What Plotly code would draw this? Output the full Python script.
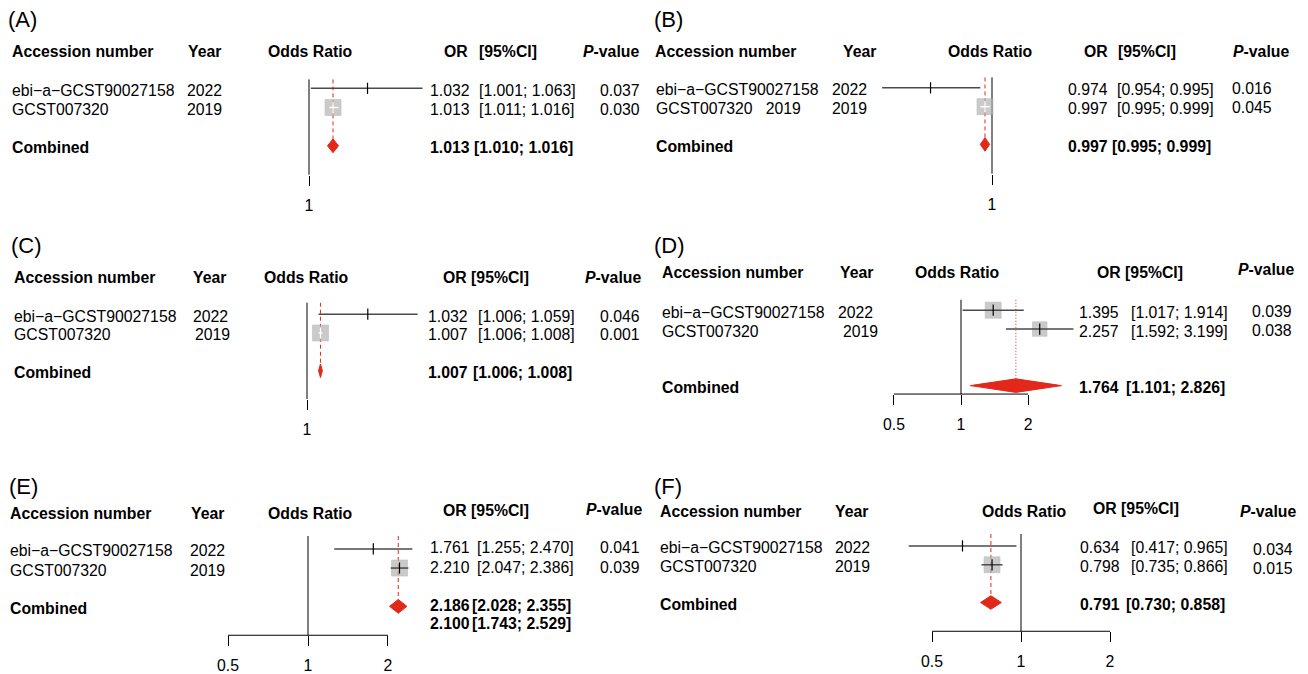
import math
import plotly.graph_objects as go

W, H = 1308, 674
FONT = "Liberation Sans, Arial, Helvetica, sans-serif"
FS = 15.8
TEXT_DY = 2      # glyph centre sits a little above the annotation box centre
TEXT_DX = -2     # annotation box padding on the anchored side

# ---------------- data ----------------
study_ids = ["ebi−a−GCST90027158", "GCST007320"]
study_ids_b = ["ebi−a−GCST90027158", "GCST007320\u00a0\u00a0\u00a02019"]
study_years = ["2022", "2019"]

# (A)
or_a = [1.032, 1.013]
lo_a = [1.001, 1.011]
hi_a = [1.063, 1.016]
p_a = ["0.037", "0.030"]
pooled_a = [1.013, 1.010, 1.016]

# (B)
or_b = [0.974, 0.997]
lo_b = [0.954, 0.995]
hi_b = [0.995, 0.999]
p_b = ["0.016", "0.045"]
pooled_b = [0.997, 0.995, 0.999]

# (C)
or_c = [1.032, 1.007]
lo_c = [1.006, 1.006]
hi_c = [1.059, 1.008]
p_c = ["0.046", "0.001"]
pooled_c = [1.007, 1.006, 1.008]

# (D)
or_d = [1.395, 2.257]
lo_d = [1.017, 1.592]
hi_d = [1.914, 3.199]
p_d = ["0.039", "0.038"]
pooled_d = [1.764, 1.101, 2.826]

# (E)
or_e = [1.761, 2.210]
lo_e = [1.255, 2.047]
hi_e = [2.470, 2.386]
p_e = ["0.041", "0.039"]
pooled_e = [2.186, 2.028, 2.355]
pooled_e_alt = [2.100, 1.743, 2.529]

# (F)
or_f = [0.634, 0.798]
lo_f = [0.417, 0.735]
hi_f = [0.965, 0.866]
p_f = ["0.034", "0.015"]
pooled_f = [0.791, 0.730, 0.858]

axis_ticks_narrow = [1]
axis_ticks_wide = [0.5, 1, 2]

# ---------------- styling ----------------
RED = "#e2281b"
SQUARE_FILL = "#b4b4b4"
SQUARE_EDGE = "#a2a2a2"
CI_COLOR = "#4a4a4a"
MAX_SIDE = 16

# ---------------- panel layout (pixels) ----------------
panels = [
    dict(tag="(A)", tag_xy=(8, 18), names=study_ids,
         est=or_a, lo=lo_a, hi=hi_a, p=p_a, pooled=pooled_a, pooled_alt=None,
         span=(0, 654), one_px=309, k=1858, row1=89, pitch=19.3, comb_row=4,
         ref_top=80, axis=176, ticks=axis_ticks_narrow, refdash="4px,3px",
         head_y=50, split_head=True, head_dy=(0, 0),
         head_x=dict(acc=12, year=188, odds=268, or_=468, ci=479, pv=583),
         col_x=dict(name=12, year=[187, 187], est=430, ci=479, p=600),
         val_dy=0, p_dy=0),
    dict(tag="(B)", tag_xy=(654, 18), names=study_ids_b,
         est=or_b, lo=lo_b, hi=hi_b, p=p_b, pooled=pooled_b, pooled_alt=None,
         span=(654, 1308), one_px=992, k=2333, row1=88.5, pitch=19, comb_row=4,
         ref_top=78, axis=175, ticks=axis_ticks_narrow, refdash="4px,3px",
         head_y=50, split_head=True, head_dy=(0, 0),
         head_x=dict(acc=655, year=843, odds=948, or_=1108, ci=1118, pv=1233),
         col_x=dict(name=656, year=[832, 832], est=1068, ci=1117, p=1232),
         val_dy=0, p_dy=-1),
    dict(tag="(C)", tag_xy=(11, 245), names=study_ids,
         est=or_c, lo=lo_c, hi=hi_c, p=p_c, pooled=pooled_c, pooled_alt=None,
         span=(0, 654), one_px=307, k=1930, row1=316.5, pitch=19, comb_row=4,
         ref_top=305, axis=402, ticks=axis_ticks_narrow, refdash="4px,3px",
         head_y=278, split_head=False, head_dy=(0, 0),
         head_x=dict(acc=14, year=193, odds=264, or_=443, pv=585),
         col_x=dict(name=14, year=[193, 195], est=428, ci=478, p=600),
         val_dy=0, p_dy=0),
    dict(tag="(D)", tag_xy=(654, 245), names=study_ids,
         est=or_d, lo=lo_d, hi=hi_d, p=p_d, pooled=pooled_d, pooled_alt=None,
         span=(654, 1308), one_px=961, k=96.7, row1=312.5, pitch=19, comb_row=5,
         ref_top=302, axis=397, ticks=axis_ticks_wide, refdash="1px,2px",
         head_y=273, split_head=False, head_dy=(0, -3),
         head_x=dict(acc=662, year=840, odds=915, or_=1097, pv=1238),
         col_x=dict(name=662, year=[838, 843], est=1079, ci=1131, p=1252),
         val_dy=0, p_dy=-1),
    dict(tag="(E)", tag_xy=(9, 488), names=study_ids,
         est=or_e, lo=lo_e, hi=hi_e, p=p_e, pooled=pooled_e, pooled_alt=pooled_e_alt,
         span=(0, 654), one_px=308, k=115.4, row1=553, pitch=19.3, comb_row=4,
         ref_top=540, axis=640, ticks=axis_ticks_wide, refdash="4px,3px",
         head_y=515, split_head=False, head_dy=(-3, -4),
         head_x=dict(acc=10, year=191, odds=268, or_=443, pv=586),
         col_x=dict(name=10, year=[190, 190], est=430, ci=477, p=600),
         val_dy=-3, p_dy=0),
    dict(tag="(F)", tag_xy=(654, 488), names=study_ids,
         est=or_f, lo=lo_f, hi=hi_f, p=p_f, pooled=pooled_f, pooled_alt=None,
         span=(654, 1308), one_px=1021, k=128.4, row1=550, pitch=19, comb_row=4,
         ref_top=538, axis=636, ticks=axis_ticks_wide, refdash="4px,3px",
         head_y=513, split_head=False, head_dy=(-3, 0),
         head_x=dict(acc=660, year=835, odds=982, or_=1093, pv=1240),
         col_x=dict(name=660, year=[835, 835], est=1080, ci=1131, p=1253),
         val_dy=0, p_dy=2),
]

fig = go.Figure()
annotations = []
layout_axes = {}


def px_x(px):
    return px / W


def px_y(py):
    return 1 - py / H


def add_text(text, x_px, y_px, anchor="left", size=FS, bold=False):
    if bold:
        text = f"<b>{text}</b>"
    dx = TEXT_DX if anchor == "left" else -TEXT_DX
    annotations.append(dict(
        text=text, x=px_x(x_px + dx), y=px_y(y_px + TEXT_DY),
        xref="paper", yref="paper",
        xanchor=anchor, yanchor="middle", showarrow=False,
        font=dict(family=FONT, size=size, color="black")))


for i, sp in enumerate(panels):
    n = "" if i == 0 else str(i + 1)
    xa, ya = f"x{n}", f"y{n}"
    ln10 = math.log(10)
    k10 = sp["k"] * ln10
    r0 = (sp["span"][0] - sp["one_px"]) / k10
    r1 = (sp["span"][1] - sp["one_px"]) / k10

    row1, pitch = sp["row1"], sp["pitch"]

    def to_row(py, row1=row1, pitch=pitch):
        return 1 + (py - row1) / pitch

    ticks = sp["ticks"]
    layout_axes[f"xaxis{n}"] = dict(
        type="log", domain=[sp["span"][0] / W, sp["span"][1] / W],
        range=[r0, r1], anchor="free", position=px_y(sp["axis"]),
        tickvals=ticks, ticktext=[f"{t:g}" for t in ticks],
        ticks="outside", ticklen=10, tickwidth=1, tickcolor="black",
        showline=False, showgrid=False, zeroline=False,
        tickfont=dict(family=FONT, size=FS, color="black"),
        ticklabelstandoff=6, fixedrange=True)
    layout_axes[f"yaxis{n}"] = dict(
        domain=[0, 1], range=[to_row(H), to_row(0)], visible=False,
        showgrid=False, zeroline=False, fixedrange=True)

    # reference line at OR = 1 down to the axis
    fig.add_trace(go.Scatter(
        x=[1, 1], y=[to_row(sp["ref_top"]), to_row(sp["axis"])],
        xaxis=xa, yaxis=ya, mode="lines",
        line=dict(color="black", width=1), hoverinfo="skip"))

    # axis bracket between outer ticks
    if len(ticks) > 1:
        fig.add_trace(go.Scatter(
            x=[min(ticks), max(ticks)], y=[to_row(sp["axis"])] * 2,
            xaxis=xa, yaxis=ya, mode="lines",
            line=dict(color="black", width=1), hoverinfo="skip"))

    est, lo, hi = sp["est"], sp["lo"], sp["hi"]
    p_est, p_lo, p_hi = sp["pooled"]
    dh = 0.36

    # pooled-estimate guide line
    fig.add_trace(go.Scatter(
        x=[p_est, p_est], y=[to_row(sp["ref_top"]), sp["comb_row"] - dh],
        xaxis=xa, yaxis=ya, mode="lines",
        line=dict(color=RED, width=1, dash=sp["refdash"]), hoverinfo="skip"))

    # square sides from inverse-variance weights
    widths = [math.log(h) - math.log(l) for l, h in zip(lo, hi)]
    wts = [1 / w ** 2 for w in widths]
    wmax = max(wts)
    sides = [MAX_SIDE * math.sqrt(w / wmax) for w in wts]
    rows = [1, 2]

    big = [j for j in range(2) if sides[j] >= 4]
    fig.add_trace(go.Scatter(
        x=[est[j] for j in big], y=[rows[j] for j in big],
        xaxis=xa, yaxis=ya, mode="markers",
        marker=dict(symbol="square", size=[sides[j] for j in big],
                    color=SQUARE_FILL, line=dict(color=SQUARE_EDGE, width=0.6)),
        hoverinfo="skip"))

    for j in range(2):
        half = (sides[j] / 2) / sp["k"]
        inside = (math.log(lo[j]) >= math.log(est[j]) - half and
                  math.log(hi[j]) <= math.log(est[j]) + half and sides[j] >= 4)
        col = "white" if inside else CI_COLOR
        tick_col = "white" if inside else "black"
        fig.add_trace(go.Scatter(
            x=[lo[j], hi[j]], y=[rows[j], rows[j]], xaxis=xa, yaxis=ya,
            mode="lines", line=dict(color=col, width=1.5), hoverinfo="skip"))
        fig.add_trace(go.Scatter(
            x=[est[j]], y=[rows[j]], xaxis=xa, yaxis=ya, mode="markers",
            marker=dict(symbol="line-ns-open", size=8, color=tick_col,
                        line=dict(color=tick_col, width=1.2)),
            hoverinfo="skip"))

    # pooled diamond
    cr = sp["comb_row"]
    fig.add_trace(go.Scatter(
        x=[p_lo, p_est, p_hi, p_est, p_lo], y=[cr, cr - dh, cr, cr + dh, cr],
        xaxis=xa, yaxis=ya, mode="lines", fill="toself",
        fillcolor=RED, line=dict(color=RED, width=1), hoverinfo="skip"))

    # ---- text columns ----
    add_text(sp["tag"], sp["tag_xy"][0], sp["tag_xy"][1], size=22)
    hx, hy = sp["head_x"], sp["head_y"]
    or_dy, pv_dy = sp["head_dy"]
    add_text("Accession number", hx["acc"], hy, bold=True)
    add_text("Year", hx["year"], hy, bold=True)
    add_text("Odds Ratio", hx["odds"], hy, bold=True)
    if sp["split_head"]:
        add_text("OR", hx["or_"], hy, anchor="right", bold=True)
        add_text("[95%CI]", hx["ci"], hy, bold=True)
        add_text("<i>P</i>-value", hx["pv"], hy, bold=True)
    else:
        add_text("OR [95%CI]", hx["or_"], hy + or_dy, bold=True)
        add_text("<i>P</i>-value", hx["pv"], hy + pv_dy, bold=True)

    cx = sp["col_x"]
    dy = sp["val_dy"]
    for j in range(2):
        ry = row1 + (rows[j] - 1) * pitch
        add_text(sp["names"][j], cx["name"], ry)
        add_text(study_years[j], cx["year"][j], ry)
        add_text(f"{est[j]:.3f}", cx["est"], ry + dy)
        add_text(f"[{lo[j]:.3f}; {hi[j]:.3f}]", cx["ci"], ry + dy)
        add_text(sp["p"][j], cx["p"], ry + dy + sp["p_dy"])

    cy = row1 + (cr - 1) * pitch
    add_text("Combined", cx["name"], cy, bold=True)
    add_text(f"{p_est:.3f}", cx["est"], cy + dy, bold=True)
    add_text(f"[{p_lo:.3f}; {p_hi:.3f}]", cx["ci"] - 5, cy + dy, bold=True)
    if sp["pooled_alt"] is not None:
        a_est, a_lo, a_hi = sp["pooled_alt"]
        ay = cy + pitch * 0.95
        add_text(f"{a_est:.3f}", cx["est"], ay + dy, bold=True)
        add_text(f"[{a_lo:.3f}; {a_hi:.3f}]", cx["ci"] - 5, ay + dy, bold=True)

fig.update_layout(
    width=W, height=H, margin=dict(l=0, r=0, t=0, b=0),
    paper_bgcolor="white", plot_bgcolor="rgba(0,0,0,0)",
    showlegend=False, annotations=annotations, **layout_axes)

fig.write_html("out.html")
